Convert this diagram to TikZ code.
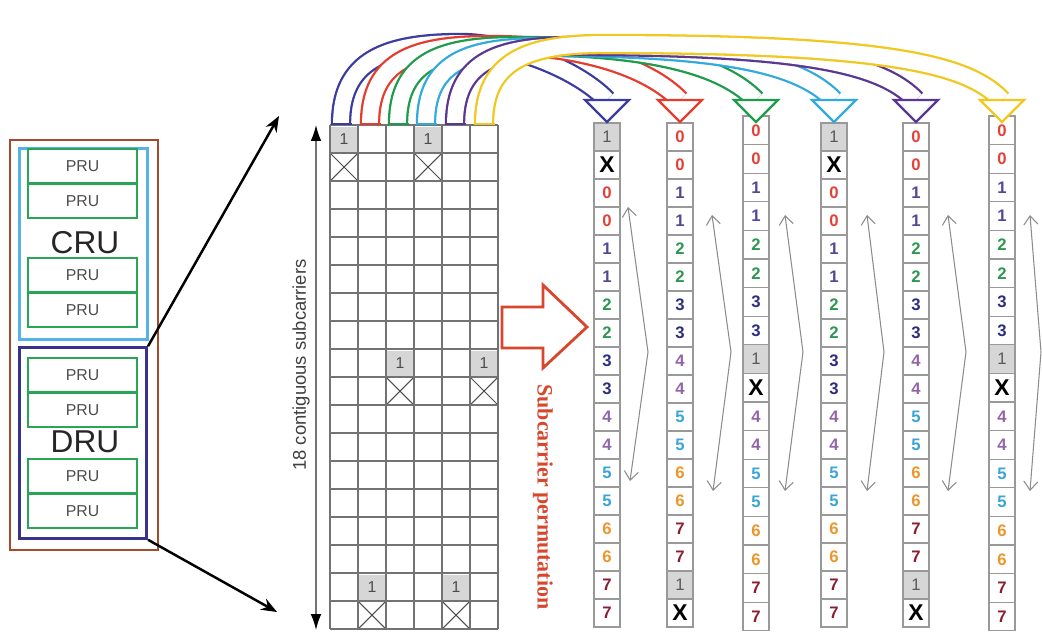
\documentclass[tikz,border=0pt]{standalone}
\usepackage{fontspec}
\setmainfont{Liberation Sans}
\newfontfamily\permfont{Liberation Serif}
\usetikzlibrary{arrows.meta, positioning, calc, shapes.misc}

\definecolor{ubrown}{RGB}{165, 75, 45}
\definecolor{crublue}{RGB}{85, 180, 230}
\definecolor{drublue}{RGB}{55, 50, 140}
\definecolor{prugreen}{RGB}{40, 165, 85}
\definecolor{permred}{RGB}{215, 70, 45}
% subcarrier group colours
\definecolor{sc0}{RGB}{225, 65, 55}
\definecolor{sc1}{RGB}{85, 70, 150}
\definecolor{sc2}{RGB}{45, 150, 80}
\definecolor{sc3}{RGB}{45, 45, 125}
\definecolor{sc4}{RGB}{145, 100, 170}
\definecolor{sc5}{RGB}{60, 165, 215}
\definecolor{sc6}{RGB}{235, 150, 45}
\definecolor{sc7}{RGB}{140, 30, 50}
% hop colours
\definecolor{arcA}{RGB}{60, 60, 160}
\definecolor{arcB}{RGB}{230, 60, 45}
\definecolor{arcC}{RGB}{30, 155, 75}
\definecolor{arcD}{RGB}{50, 170, 220}
\definecolor{arcE}{RGB}{90, 55, 145}
\definecolor{arcF}{RGB}{240, 200, 30}

\newcommand\permA{g/1,x/X,0/0,0/0,1/1,1/1,2/2,2/2,3/3,3/3,4/4,4/4,5/5,5/5,6/6,6/6,7/7,7/7}
\newcommand\permB{0/0,0/0,1/1,1/1,2/2,2/2,3/3,3/3,4/4,4/4,5/5,5/5,6/6,6/6,7/7,7/7,g/1,x/X}
\newcommand\permC{0/0,0/0,1/1,1/1,2/2,2/2,3/3,3/3,g/1,x/X,4/4,4/4,5/5,5/5,6/6,6/6,7/7,7/7}

\begin{document}
\begin{tikzpicture}[
  x=0.02cm, y=-0.02cm,
  pru/.style={draw=prugreen, line width=1.5pt, minimum width=2.18cm, minimum height=0.68cm, inner sep=0pt, font=\fontsize{9}{10}\selectfont, text=black!70},
  unit/.style={line width=1.5pt, minimum width=2.55cm, minimum height=3.82cm, inner sep=0pt},
  unitlbl/.style={font=\fontsize{18}{20}\selectfont, text=black!85},
  gridline/.style={draw=black!55, line width=0.7pt},
  gridone/.style={fill=black!16, minimum width=0.52cm, minimum height=0.5cm, inner sep=0pt, font=\fontsize{9}{10}\selectfont, text=black!70},
  gridx/.style={cross out, draw=black!70, line width=0.6pt, minimum size=0.56cm, inner sep=0pt},
  sccell/.style={draw=black!40, line width=0.6pt, minimum width=0.52cm, minimum height=0.56cm, inner sep=0pt, font=\fontsize{9.5}{10}\selectfont\bfseries},
  lblg/.style={fill=black!16, text=black!65, font=\fontsize{9.5}{10}\selectfont},
  lblx/.style={text=black, font=\fontsize{13}{14}\selectfont\bfseries},
  lbl0/.style={text=sc0}, lbl1/.style={text=sc1}, lbl2/.style={text=sc2}, lbl3/.style={text=sc3},
  lbl4/.style={text=sc4}, lbl5/.style={text=sc5}, lbl6/.style={text=sc6}, lbl7/.style={text=sc7},
  tube/.style={line width=1.3pt, double=white, double distance=9pt},
  tubehead/.style={line width=1.3pt, fill=white, line join=miter},
  hopline/.style={black!45, line width=0.6pt, {Straight Barb[length=5pt,width=8pt]}-{Straight Barb[length=5pt,width=8pt]}},
  zoomline/.style={line width=1.4pt, -{Stealth[length=9pt,width=7pt]}},
  scaleline/.style={black!55, line width=0.8pt, {Latex[length=9pt,width=6pt,black]}-{Latex[length=9pt,width=6pt,black]}},
  permarrow/.style={draw=permred, line width=1.6pt, fill=white, line join=miter},
  permlbl/.style={rotate=-90, text=permred, font=\permfont\bfseries\fontsize{12.5}{14}\selectfont}
]
  \useasboundingbox (0,0) rectangle (1042,633);

  % resource unit stack
  \node[draw=ubrown, line width=1.5pt, minimum width=2.96cm, minimum height=8.2cm] (ru) at (84,345) {};
  \node[unit, draw=crublue] (cru) at (83.5,244) {};
  \node[unit, draw=drublue] (dru) at (83,443) {};
  \node[pru] (pru1) at (82.5,166) {PRU};
  \node[pru] (pru2) at (82.5,201) {PRU};
  \node[pru] (pru3) at (82.5,275) {PRU};
  \node[pru] (pru4) at (82.5,310) {PRU};
  \node[pru] (pru5) at (82.5,375) {PRU};
  \node[pru] (pru6) at (82.5,410) {PRU};
  \node[pru] (pru7) at (82.5,476) {PRU};
  \node[pru] (pru8) at (82.5,511) {PRU};
  \node[unitlbl] (crulbl) at (85,243) {CRU};
  \node[unitlbl] (drulbl) at (85,442) {DRU};

  \coordinate (zoomtop) at (279,116);
  \coordinate (zoombot) at (277,612);
  \draw[zoomline] (dru.north east) -- (zoomtop);
  \draw[zoomline] (dru.south east) -- (zoombot);

  % 18 x 6 subcarrier grid with pilots and nulls
  \foreach \x/\y [count=\n] in {344/139, 428/139, 400/363, 484/363, 372/587, 456/587} {
    \node[gridone] (pilot\n) at (\x,\y) {1};
    \node[gridx] (null\n) at (\x,\y+28) {};
  }
  \foreach \i in {0,...,6}
    \draw[gridline] (330+28*\i,125) -- (330+28*\i,629);
  \foreach \j in {0,...,18}
    \draw[gridline] (330,125+28*\j) -- (498,125+28*\j);

  \coordinate (sctop) at (316,125);
  \coordinate (scbot) at (316,630);
  \draw[scaleline] (sctop) -- (scbot);
  \node[rotate=90, font=\fontsize{10.5}{12}\selectfont, text=black!75] (sclbl) at (301,365) {18 contiguous subcarriers};

  % permutation
  \draw[permarrow] (502,307) -- (543,307) -- (543,285) -- (587,327) -- (543,368) -- (543,348) -- (502,348) -- cycle;
  \node[permlbl] (perm) at (543,497) {Subcarrier permutation};

  % permuted columns
  \foreach \s/\t [count=\k from 0] in \permA {\node[sccell, lbl\s] (colA\k) at (607,137+28*\k) {\t};}
  \foreach \s/\t [count=\k from 0] in \permB {\node[sccell, lbl\s] (colB\k) at (680,137+28*\k) {\t};}
  \foreach \s/\t [count=\k from 0] in \permC {\node[sccell, lbl\s, minimum height=0.572cm] (colC\k) at (756,130.3+28.6*\k) {\t};}
  \foreach \s/\t [count=\k from 0] in \permA {\node[sccell, lbl\s] (colD\k) at (834,137+28*\k) {\t};}
  \foreach \s/\t [count=\k from 0] in \permB {\node[sccell, lbl\s] (colE\k) at (916,137+28*\k) {\t};}
  \foreach \s/\t [count=\k from 0] in \permC {\node[sccell, lbl\s, minimum height=0.572cm] (colF\k) at (1002,130.3+28.6*\k) {\t};}

  \foreach \n/\xt/\yt/\xm/\xd/\yd in {A/628/207/648/630/481, B/712/215/731/713/491, C/785/215/803/785/491,
                                     D/867/215/884/867/491, E/948/215/966/948/491, F/1030/215/1041/1030/491} {
    \coordinate (up\n) at (\xt,\yt);
    \coordinate (bend\n) at (\xm,352);
    \coordinate (down\n) at (\xd,\yd);
    \draw[hopline] (up\n) -- (bend\n) -- (down\n);
  }

  % hops from grid columns to permuted columns
  \foreach \col/\xb/\xd/\yt [count=\i] in {arcA/341/607/43, arcB/370/680/45, arcC/398/756/46,
                                          arcD/426/834/47, arcE/455/916/46, arcF/484/1002/44} {
    \coordinate (src\i) at (\xb,124);
    \coordinate (peak\i) at (\xb+120,\yt);
    \coordinate (dst\i) at (\xd,100);
    \draw[tube, draw=\col] (src\i) .. controls +(0,-64) and +(-75,0) .. (peak\i)
      .. controls +(\xd-\xb-220,0) and +(-32,-33) .. (dst\i);
    \draw[draw=\col, line width=1.3pt] ($(src\i)+(-10.5,0)$) -- ($(src\i)+(10.5,0)$);
    \draw[tubehead, draw=\col] ($(dst\i)+(-22,0)$) -- ($(dst\i)+(22,0)$) -- ($(dst\i)+(0,22)$) -- cycle;
  }
\end{tikzpicture}
\end{document}
